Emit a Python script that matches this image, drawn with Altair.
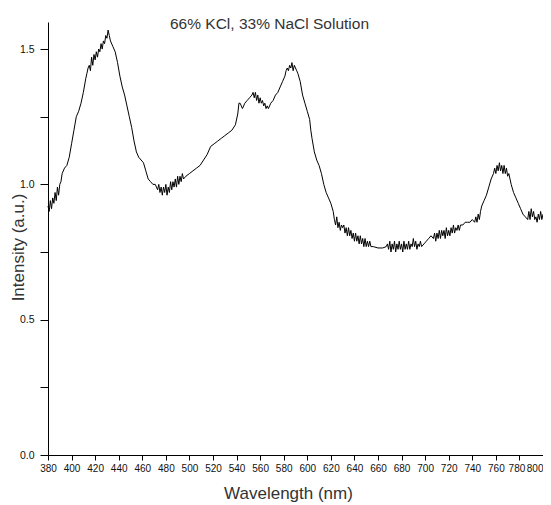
import altair as alt
import pandas as pd

wavelength = [
    380, 381, 382, 383, 384, 385, 386, 387, 388, 389, 390, 391, 392, 394, 396, 398,
    400, 402, 404, 406, 408, 410, 412, 413, 414, 415, 416, 417, 418, 419, 420, 421,
    422, 423, 424, 425, 426, 427, 428, 429, 430, 431, 432, 433, 435, 437, 439, 441,
    443, 445, 447, 449, 451, 453, 455, 457, 459, 461, 463, 465, 467, 469, 471, 472,
    473, 474, 475, 476, 477, 478, 479, 480, 481, 482, 483, 484, 485, 486, 487, 488,
    489, 490, 491, 492, 493, 494, 495, 497, 500, 503, 506, 509, 512, 515, 518, 521,
    524, 527, 530, 533, 536, 539, 541, 542, 543, 544, 545, 547, 549, 551, 553, 554,
    555, 556, 557, 558, 559, 560, 561, 562, 563, 564, 565, 566, 567, 569, 571, 573,
    575, 577, 579, 581, 582, 583, 584, 585, 586, 587, 588, 589, 590, 591, 592, 594,
    596, 598, 600, 602, 603, 604, 606, 608, 610, 612, 614, 616, 618, 620, 622, 623,
    624, 625, 626, 627, 628, 629, 630, 631, 632, 633, 634, 635, 636, 637, 638, 639,
    640, 641, 642, 643, 644, 645, 646, 647, 648, 649, 650, 651, 652, 653, 654, 656,
    660, 664, 667, 668, 669, 670, 671, 672, 673, 674, 675, 676, 677, 678, 679, 680,
    681, 682, 683, 684, 685, 686, 687, 688, 689, 690, 691, 692, 693, 694, 695, 696,
    697, 699, 701, 703, 705, 707, 708, 709, 710, 711, 712, 713, 714, 715, 716, 717,
    718, 719, 720, 721, 722, 723, 724, 725, 726, 727, 728, 729, 730, 732, 734, 736,
    738, 740, 742, 743, 744, 745, 746, 747, 748, 750, 752, 754, 756, 758, 759, 760,
    761, 762, 763, 764, 765, 766, 767, 768, 769, 770, 771, 773, 775, 777, 779, 781,
    783, 785, 787, 788, 789, 790, 791, 792, 793, 794, 795, 796, 797, 798, 799, 800,
]

intensity = [
    0.92, 0.90, 0.94, 0.91, 0.95, 0.93, 0.97, 0.94, 0.99, 0.96, 1.00, 1.01, 1.04, 1.06, 1.07, 1.10,
    1.15, 1.20, 1.25, 1.27, 1.30, 1.34, 1.39, 1.41, 1.43, 1.44, 1.42, 1.47, 1.44, 1.48, 1.46, 1.49,
    1.47, 1.50, 1.49, 1.52, 1.50, 1.53, 1.52, 1.55, 1.54, 1.57, 1.55, 1.53, 1.51, 1.49, 1.45, 1.40,
    1.36, 1.33, 1.29, 1.25, 1.21, 1.16, 1.12, 1.10, 1.09, 1.08, 1.05, 1.02, 1.01, 1.00, 1.00, 0.99,
    0.98, 1.00, 0.97, 0.99, 0.96, 0.99, 0.97, 1.00, 0.96, 0.99, 0.97, 1.01, 0.98, 1.01, 0.99, 1.02,
    0.99, 1.03, 1.00, 1.03, 1.01, 1.04, 1.02, 1.03, 1.04, 1.05, 1.06, 1.07, 1.09, 1.11, 1.14, 1.15,
    1.16, 1.17, 1.18, 1.19, 1.20, 1.22, 1.26, 1.30, 1.30, 1.29, 1.28, 1.30, 1.31, 1.32, 1.33, 1.34,
    1.32, 1.34, 1.31, 1.33, 1.30, 1.32, 1.30, 1.31, 1.29, 1.30, 1.28, 1.29, 1.28, 1.30, 1.31, 1.33,
    1.34, 1.36, 1.38, 1.40, 1.42, 1.43, 1.42, 1.44, 1.43, 1.45, 1.42, 1.44, 1.43, 1.42, 1.41, 1.38,
    1.33, 1.30, 1.27, 1.24, 1.20, 1.17, 1.12, 1.09, 1.07, 1.04, 1.00, 0.97, 0.95, 0.93, 0.90, 0.87,
    0.85, 0.88, 0.84, 0.86, 0.83, 0.85, 0.84, 0.85, 0.82, 0.84, 0.81, 0.84, 0.81, 0.83, 0.80, 0.82,
    0.79, 0.82, 0.79, 0.81, 0.78, 0.81, 0.78, 0.80, 0.77, 0.80, 0.77, 0.79, 0.77, 0.79, 0.77, 0.77,
    0.765, 0.765, 0.77, 0.78, 0.76, 0.79, 0.75, 0.78, 0.76, 0.79, 0.75, 0.78, 0.76, 0.79, 0.76, 0.78,
    0.75, 0.79, 0.76, 0.78, 0.76, 0.79, 0.76, 0.78, 0.77, 0.80, 0.77, 0.79, 0.76, 0.78, 0.77, 0.79,
    0.77, 0.78, 0.79, 0.80, 0.81, 0.80, 0.82, 0.79, 0.82, 0.80, 0.83, 0.80, 0.83, 0.81, 0.83, 0.80,
    0.84, 0.81, 0.83, 0.81, 0.84, 0.82, 0.85, 0.82, 0.84, 0.83, 0.85, 0.83, 0.85, 0.85, 0.86, 0.86,
    0.86, 0.87, 0.86, 0.88, 0.86, 0.89, 0.87, 0.90, 0.92, 0.94, 0.96, 0.99, 1.02, 1.04, 1.06, 1.04,
    1.07, 1.05, 1.08, 1.05, 1.07, 1.04, 1.07, 1.04, 1.06, 1.03, 1.04, 1.00, 0.97, 0.95, 0.93, 0.91,
    0.89, 0.88, 0.87, 0.90, 0.87, 0.91, 0.88, 0.90, 0.87, 0.88, 0.86, 0.89, 0.87, 0.90, 0.87, 0.89,
]

x_ticks = list(range(380, 801, 20))
y_ticks = [0, 0.25, 0.5, 0.75, 1.0, 1.25, 1.5]

df = pd.DataFrame({"wavelength": wavelength, "intensity": intensity})

FONT = "Liberation Sans"

chart = (
    alt.Chart(df)
    .mark_line(color="black", strokeWidth=1)
    .encode(
        x=alt.X(
            "wavelength:Q",
            scale=alt.Scale(domain=[380, 800], nice=False, zero=False),
            axis=alt.Axis(
                values=x_ticks,
                format="d",
                title="Wavelength (nm)",
                titleFontSize=17,
                titleFontWeight="normal",
                titleColor="#333333",
                titleFont=FONT,
                titleY=43,
                titleBaseline="alphabetic",
                titleX=240,
                labelFont=FONT,
                labelFontSize=10,
                labelColor="#111111",
                labelFlush=False,
                labelOverlap=False,
                labelAlign=alt.condition("datum.value == 800", alt.value("right"), alt.value("center")),
                labelOffset=alt.condition("datum.value == 780", alt.value(-3), alt.value(0)),
                labelPadding=3,
                tickSize=5,
                tickColor="black",
                domainColor="black",
                grid=False,
            ),
        ),
        y=alt.Y(
            "intensity:Q",
            scale=alt.Scale(domain=[0, 1.6], nice=False),
            axis=alt.Axis(
                values=y_ticks,
                labelExpr="datum.value % 0.5 == 0 ? format(datum.value, '.1f') : ''",
                title="Intensity (a.u.)",
                titleFontSize=17,
                titleFontWeight="normal",
                titleColor="#333333",
                titleFont=FONT,
                titleX=-30,
                titleY=225,
                titleAlign="center",
                titleBaseline="middle",
                labelFont=FONT,
                labelFontSize=10.5,
                labelColor="#111111",
                labelPadding=6,
                tickSize=8,
                tickColor="black",
                domainColor="black",
                grid=False,
            ),
        ),
    )
    .properties(
        width=495,
        height=433,
        title=alt.TitleParams(
            "66% KCl, 33% NaCl Solution",
            font=FONT,
            fontSize=15.5,
            fontWeight="normal",
            color="#333333",
            anchor="middle",
            dx=-26,
            dy=14,
        ),
        autosize=alt.AutoSizeParams(type="none"),
        padding={"left": 40, "top": 14, "right": 0, "bottom": 48},
    )
    .configure_view(stroke=None)
)

chart.save("out.html", embed_options={"renderer": "svg", "actions": False})
